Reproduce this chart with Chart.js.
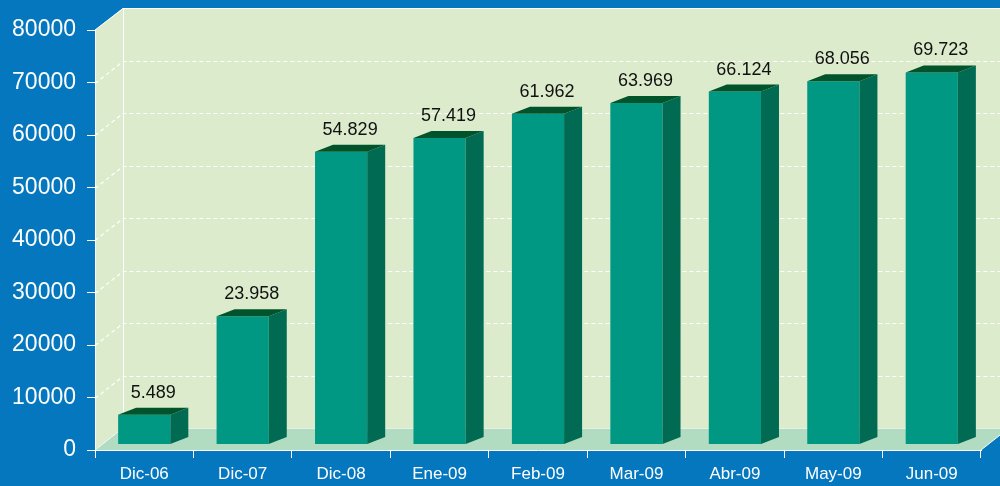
<!DOCTYPE html>
<html>
<head>
<meta charset="utf-8">
<script src="https://cdn.jsdelivr.net/npm/chart.js@4/dist/chart.umd.min.js"></script>
<style>
  html, body { margin: 0; padding: 0; background: #0477bf; }
  #wrap { width: 1000px; height: 486px; }
</style>
</head>
<body>
<div id="wrap"><canvas id="myChart" width="1000" height="486"></canvas></div>
<script>
const categories = ['Dic-06', 'Dic-07', 'Dic-08', 'Ene-09', 'Feb-09', 'Mar-09', 'Abr-09', 'May-09', 'Jun-09']
const values = [5489, 23958, 54829, 57419, 61962, 63969, 66124, 68056, 69723]
const yMin = 0
const yMax = 80000
const yStep = 10000
// the 3d bars in the picture stand a bit taller than the front axis says
const barMax = 78800

const FONT = '"Liberation Sans", Arial, sans-serif'
const BLUE = '#0477bf'
const WALL = '#dbebcb'
const FLOOR = '#b1dcc1'
// depth of the box and of the bars (oblique 3d look)
const DX = 28, DY = -22
const BAR_DY = -6, BX = 18, BY = -7

function fmt(v) {
    return String(v).replace(/\B(?=(\d{3})+(?!\d))/g, '.')
}

const box3d = {
    id: 'box3d',
    beforeDraw(chart) {
        const { ctx, chartArea: a, width, height } = chart
        const y = chart.scales.y
        const L = a.left, R = a.right, T = a.top, B = a.bottom
        ctx.save()
        ctx.fillStyle = BLUE
        ctx.fillRect(0, 0, width, height)

        // left wall + back wall
        ctx.fillStyle = WALL
        ctx.beginPath()
        ctx.moveTo(L, T)
        ctx.lineTo(L + DX, T + DY)
        ctx.lineTo(R + DX, T + DY)
        ctx.lineTo(R + DX, B + DY)
        ctx.lineTo(L + DX, B + DY)
        ctx.lineTo(L, B)
        ctx.closePath()
        ctx.fill()

        // floor
        ctx.fillStyle = FLOOR
        ctx.beginPath()
        ctx.moveTo(L, B)
        ctx.lineTo(R, B)
        ctx.lineTo(R + DX, B + DY)
        ctx.lineTo(L + DX, B + DY)
        ctx.closePath()
        ctx.fill()

        // dashed grid on walls
        ctx.strokeStyle = '#ffffff'
        ctx.lineWidth = 1.2
        ctx.setLineDash([4, 3])
        for (let v = yMin + yStep; v < yMax; v += yStep) {
            const py = Math.round(y.getPixelForValue(v)) + 0.5
            ctx.beginPath()
            ctx.moveTo(L, py)
            ctx.lineTo(L + DX, py + DY)
            ctx.lineTo(R + DX, py + DY)
            ctx.stroke()
        }
        ctx.setLineDash([])
        ctx.lineWidth = 1

        // solid edges of the box
        ctx.beginPath()
        ctx.moveTo(L, T)
        ctx.lineTo(L + DX, T + DY + 0.5)
        ctx.lineTo(R + DX, T + DY + 0.5)
        ctx.moveTo(L + DX + 0.5, T + DY)
        ctx.lineTo(L + DX + 0.5, B + DY)
        ctx.moveTo(L, B)
        ctx.lineTo(L + DX, B + DY)
        ctx.moveTo(R, B)
        ctx.lineTo(R + DX, B + DY)
        ctx.stroke()

        ctx.strokeStyle = '#e4f2e6'
        ctx.beginPath()
        ctx.moveTo(L + DX, B + DY + 0.5)
        ctx.lineTo(R + DX, B + DY + 0.5)
        ctx.stroke()
        ctx.restore()
    },
    beforeDatasetsDraw(chart) {
        chart.ctx.save()
        chart.ctx.translate(0, BAR_DY)
    },
    afterDatasetsDraw(chart) {
        const ctx = chart.ctx
        ctx.restore()
        ctx.save()
        const meta = chart.getDatasetMeta(0)
        meta.data.forEach((bar, i) => {
            const p = bar.getProps(['x', 'y', 'base', 'width'], true)
            const left = p.x - p.width / 2
            const right = p.x + p.width / 2
            const top = p.y + BAR_DY
            const bot = p.base + BAR_DY

            // side face
            ctx.fillStyle = '#006a52'
            ctx.beginPath()
            ctx.moveTo(right, top)
            ctx.lineTo(right + BX, top + BY)
            ctx.lineTo(right + BX, bot + BY)
            ctx.lineTo(right, bot)
            ctx.closePath()
            ctx.fill()

            // top face
            ctx.fillStyle = '#00532a'
            ctx.beginPath()
            ctx.moveTo(left, top)
            ctx.lineTo(left + BX, top + BY)
            ctx.lineTo(right + BX, top + BY)
            ctx.lineTo(right, top)
            ctx.closePath()
            ctx.fill()

            // value label
            ctx.fillStyle = '#111111'
            ctx.font = '18px ' + FONT
            ctx.textAlign = 'center'
            ctx.textBaseline = 'middle'
            ctx.fillText(fmt(values[i]), p.x + BX / 2, top + BY - 15)
        })
        ctx.restore()
    }
}

const ctx = document.getElementById('myChart').getContext('2d')
window.myChart = new Chart(ctx, {
    type: 'bar',
    data: {
        labels: categories,
        datasets: [{
            data: values,
            yAxisID: 'yBars',
            backgroundColor: '#009883',
            borderWidth: 0,
            barPercentage: 0.53,
            categoryPercentage: 1
        }]
    },
    options: {
        responsive: false,
        animation: false,
        layout: { padding: { top: 30, right: 19, left: 0, bottom: 0 } },
        plugins: {
            legend: { display: false },
            tooltip: { enabled: false }
        },
        scales: {
            x: {
                afterFit: s => { s.height = 36 },
                grid: { drawOnChartArea: false, color: '#ffffff', tickLength: 8, offset: true },
                border: { color: '#ffffff', width: 1 },
                ticks: { color: '#ffffff', font: { family: FONT, size: 17 }, padding: 6 }
            },
            y: {
                min: yMin,
                max: yMax,
                afterFit: s => { s.width = 95 },
                grid: { drawOnChartArea: false, color: '#ffffff', tickLength: 8 },
                border: { color: '#ffffff', width: 1 },
                ticks: {
                    stepSize: yStep,
                    color: '#ffffff',
                    font: { family: FONT, size: 23 },
                    padding: 11,
                    callback: v => String(v)
                }
            },
            yBars: {
                display: false,
                min: yMin,
                max: barMax
            }
        }
    },
    plugins: [box3d]
})
</script>
</body>
</html>
